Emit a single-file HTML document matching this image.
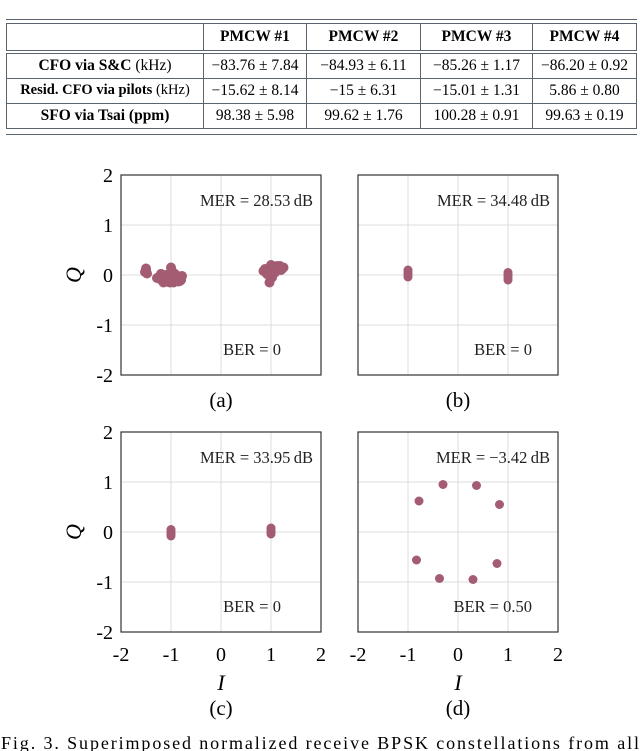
<!DOCTYPE html>
<html><head><meta charset="utf-8">
<style>
html,body{margin:0;padding:0;background:#fff;}
body{width:640px;height:751px;overflow:hidden;position:relative;font-family:"Liberation Serif",serif;}
table{position:absolute;left:6px;top:23px;width:631px;border-collapse:collapse;font-size:15.5px;}
td,th{border:1px solid #5a6470;text-align:center;height:24px;padding:0;white-space:nowrap;}
.tbl-outer{position:absolute;left:6px;top:19px;width:631px;height:114px;border-top:1px solid #5a6470;border-bottom:1px solid #5a6470;}
th{font-weight:bold;}
td.lab{font-weight:bold;}
td.lab span{font-weight:normal;}
</style></head><body>
<div class="tbl-outer"></div>
<table>
<tr style="height:28px;border-bottom:4px double #5a6470"><th style="width:196px"></th><th style="width:102px">PMCW #1</th><th style="width:113px">PMCW #2</th><th style="width:111px">PMCW #3</th><th>PMCW #4</th></tr>
<tr><td class="lab">CFO via S&amp;C <span>(kHz)</span></td><td>−83.76 ± 7.84</td><td>−84.93 ± 6.11</td><td>−85.26 ± 1.17</td><td>−86.20 ± 0.92</td></tr>
<tr><td class="lab" style="font-size:14.5px">Resid. CFO via pilots <span>(kHz)</span></td><td>−15.62 ± 8.14</td><td>−15 ± 6.31</td><td>−15.01 ± 1.31</td><td>5.86 ± 0.80</td></tr>
<tr><td class="lab">SFO via Tsai (ppm)</td><td>98.38 ± 5.98</td><td>99.62 ± 1.76</td><td>100.28 ± 0.91</td><td>99.63 ± 0.19</td></tr>
</table>
<svg id="chart" width="640" height="751" style="position:absolute;left:0;top:0"></svg>
<script>
const ticks=[-2,-1,0,1,2];
const tickLabels=["-2","-1","0","1","2"];
const panelLabels=["(a)","(b)","(c)","(d)"];
const merText=["MER = 28.53\u2009dB","MER = 34.48\u2009dB","MER = 33.95\u2009dB","MER = \u22123.42\u2009dB"];
const berText=["BER = 0","BER = 0","BER = 0","BER = 0.50"];
const ptsA_I=[-1.5,-1.48,-1.52,-1.5,-1.25,-1.2,-1.15,-1.1,-1.05,-1.0,-0.95,-0.9,-0.85,-0.8,-0.78,-1.0,-1.02,-0.98,-1.12,-0.88,-0.92,-1.08,-1.18,-0.82,-1.0,-1.22,-1.15,-1.05,-0.95,-0.85,-1.1,-0.9,-1.2,-1.28,-0.8,0.85,0.9,0.95,1.0,1.05,1.1,1.15,1.2,1.25,0.97,1.0,1.02,0.92,1.08,1.18,0.88,1.12,1.22,0.95,1.05];
const ptsA_Q=[0.1,0.03,0.06,0.13,-0.05,0.02,-0.08,-0.12,0.0,0.15,-0.1,-0.06,-0.13,-0.08,-0.02,0.05,-0.15,0.08,-0.1,-0.1,0.02,-0.05,-0.1,-0.12,-0.02,-0.08,-0.15,-0.14,-0.15,-0.05,0.0,0.0,0.02,-0.06,-0.1,0.08,0.05,0.12,0.1,0.15,0.08,0.12,0.1,0.15,-0.15,0.2,-0.05,0.02,0.05,0.18,0.12,0.18,0.12,0.0,0.03];
const ptsB_I=[-1,-1,-1,-1,1,1,1,1];
const ptsB_Q=[0.1,0.05,0,-0.04,0.05,0,-0.05,-0.1];
const ptsC_I=[-1,-1,-1,-1,1,1,1,1];
const ptsC_Q=[0.05,0,-0.04,-0.08,0.08,0.04,0,-0.04];
const ptsD_I=[-0.78,-0.3,0.37,0.83,-0.83,-0.37,0.3,0.78];
const ptsD_Q=[0.62,0.95,0.93,0.55,-0.56,-0.93,-0.95,-0.63];
const panels=[
 {x0:121,y0:175,I:ptsA_I,Q:ptsA_Q,ylab:true,xlab:false},
 {x0:358,y0:175,I:ptsB_I,Q:ptsB_Q,ylab:false,xlab:false},
 {x0:121,y0:432,I:ptsC_I,Q:ptsC_Q,ylab:true,xlab:true},
 {x0:358,y0:432,I:ptsD_I,Q:ptsD_Q,ylab:false,xlab:true}];
const svg=document.getElementById('chart');
const NS="http://www.w3.org/2000/svg";
function mk(t,a,p){const e=document.createElementNS(NS,t);for(const k in a)e.setAttribute(k,a[k]);(p||svg).appendChild(e);return e;}
const W=200,H=200;
panels.forEach((p,i)=>{
 const sx=v=>p.x0+(v+2)/4*W, sy=v=>p.y0+(2-v)/4*H;
 const g=mk('g',{});
 
 
 ticks.forEach(t=>{
  if(t>-2&&t<2){
   const gl=mk('line',{x1:sx(t),x2:sx(t),y1:p.y0,y2:p.y0+H,stroke:'#dcdcdc','stroke-width':1},g);
   
   
   const gh=mk('line',{x1:p.x0,x2:p.x0+W,y1:sy(t),y2:sy(t),stroke:'#dcdcdc','stroke-width':1},g);
   
   
  }
 });
 const fr=mk('rect',{x:p.x0,y:p.y0,width:W,height:H,fill:'none',stroke:'#333','stroke-width':1.2},g);
 
 
 p.I.forEach((v,k)=>{
  const c=mk('circle',{cx:sx(v),cy:sy(p.Q[k]),r:i==0?5:4.5,fill:'#a35c72'},g);
  
  
 });
 const m=mk('text',{x:p.x0+W-8,y:p.y0+31,'text-anchor':'end','font-size':16.5,fill:'#222'},g);m.textContent=merText[i];
 
 
 const b=mk('text',{x:p.x0+W-40,y:p.y0+180,'text-anchor':'end','font-size':16.5,fill:'#222'},g);b.textContent=berText[i];
 
 
 if(i==1||i==3){b.setAttribute('x',p.x0+W-26);}
 if(p.ylab){
  ticks.forEach((t,k)=>{const e=mk('text',{x:p.x0-8,y:sy(t)+7,'text-anchor':'end','font-size':20},g);e.textContent=tickLabels[k];
   
   });
  const q=mk('text',{x:0,y:0,'font-size':22,'font-style':'italic','text-anchor':'middle',transform:`translate(${p.x0-40},${p.y0+100}) rotate(-90)`},g);q.textContent='Q';
  
  
 }
 if(p.xlab){
  ticks.forEach((t,k)=>{const e=mk('text',{x:sx(t),y:p.y0+H+29,'text-anchor':'middle','font-size':20},g);e.textContent=tickLabels[k];
   
   });
  const it=mk('text',{x:p.x0+100,y:p.y0+H+58,'text-anchor':'middle','font-size':22,'font-style':'italic'},g);it.textContent='I';
  
  
 }
 const pl=mk('text',{x:p.x0+100,y:p.y0+H+(p.xlab?83:32),'text-anchor':'middle','font-size':21},g);pl.textContent=panelLabels[i];
 
 
});
const cap=mk('text',{x:1,y:749,'font-size':18,textLength:638,lengthAdjust:'spacing'},svg);cap.textContent='Fig. 3.  Superimposed normalized receive BPSK constellations from all';


</script>
</body></html>
